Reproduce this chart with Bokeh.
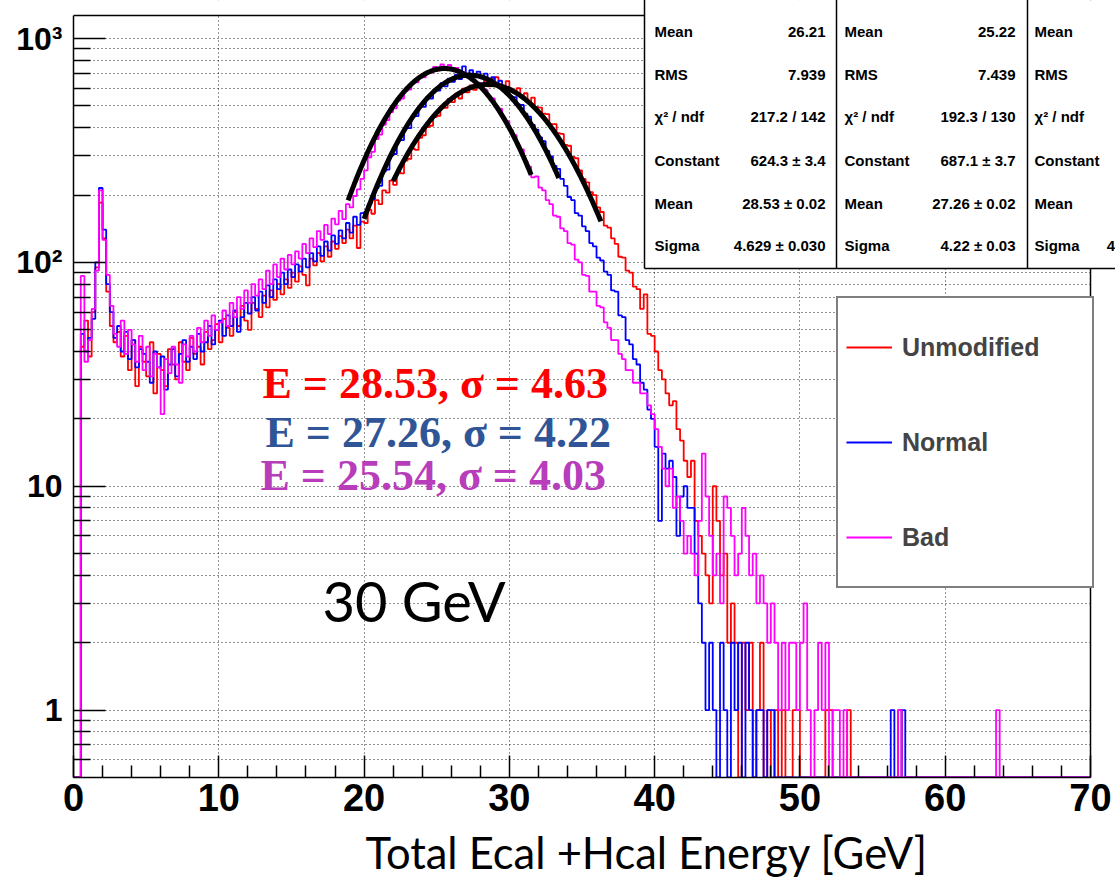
import numpy as np
from bokeh.plotting import figure
from bokeh.models import (Range1d, FixedTicker, Label, LabelSet, BoxAnnotation, Span, Title,
                          ColumnDataSource, Legend, LegendItem)
from bokeh.core.properties import value
from bokeh.embed import file_html
from bokeh.resources import INLINE

# ---------------- data ----------------
bin_width = 0.25
x_lo, x_hi = 0.0, 70.0
y_lo, y_hi = 0.5, 1268.0

unmodified = [
    0, 0, 42, 55, 38, 60, 95, 185, 128, 74, 52, 44, 49, 38, 47, 33, 45, 28, 42, 36,
    31, 44, 26, 39, 33, 28, 41, 35, 30, 44, 36, 33, 46, 39, 42, 35, 49, 41, 45, 53,
    44, 56, 51, 47, 60, 52, 64, 55, 50, 66, 62, 57, 71, 63, 75, 68, 80, 72, 84, 77,
    90, 82, 96, 88, 79, 104, 97, 110, 101, 118, 106, 124, 115, 131, 122, 140, 128, 146, 116, 152,
    150, 172, 165, 190, 182, 210, 205, 232, 222, 255, 250, 285, 290, 322, 318, 360, 370, 402, 408, 446,
    452, 500, 490, 538, 520, 568, 540, 598, 575, 618, 590, 632, 605, 648, 612, 660, 672, 625, 600, 645,
    598, 580, 600, 552, 570, 522, 545, 495, 492, 462, 460, 415, 415, 378, 375, 335, 332, 296, 292, 258,
    236, 228, 206, 200, 176, 168, 146, 143, 128, 121, 106, 105, 92, 90, 78, 76, 62, 72, 48, 47,
    40, 33, 30, 26, 23, 24, 18, 16, 13, 11, 13, 7, 6, 5, 4, 3, 10, 7, 4, 5,
    2, 3, 2, 0, 2, 1, 2, 0, 1, 2, 0, 1, 0, 1, 0, 1, 0, 0, 1, 1,
    0, 0, 0, 0, 0, 0, 0, 1, 1, 0, 0, 0, 0, 1, 0, 0, 0, 0, 0, 0,
    0, 0, 0, 0, 0, 0, 0, 1, 0, 0, 0, 0, 0, 0, 0, 0, 0, 0, 0, 0,
    0, 0, 0, 0, 0, 0, 0, 0, 0, 0, 0, 0, 0, 0, 0, 0, 0, 0, 0, 0,
    0, 0, 0, 0, 0, 0, 0, 0, 0, 0, 0, 0, 0, 0, 0, 0, 0, 0, 0, 0,
]

normal = [
    0, 0, 48, 40, 46, 56, 100, 215, 140, 80, 60, 46, 52, 40, 49, 37, 45, 34, 41, 39,
    36, 29, 40, 34, 38, 27, 35, 41, 31, 39, 45, 36, 42, 37, 48, 40, 44, 52, 43, 50,
    55, 47, 58, 52, 61, 49, 57, 66, 59, 70, 61, 74, 66, 79, 70, 84, 76, 90, 80, 93,
    86, 98, 91, 104, 95, 110, 101, 118, 107, 124, 113, 132, 121, 139, 128, 150, 136, 160, 147, 166,
    168, 182, 192, 215, 220, 255, 260, 300, 305, 350, 352, 400, 398, 448, 450, 500, 495, 548, 540, 588,
    585, 632, 612, 662, 640, 690, 660, 752, 684, 722, 672, 712, 664, 698, 645, 672, 618, 648, 588, 608,
    552, 548, 508, 505, 462, 448, 412, 392, 362, 348, 315, 298, 270, 262, 236, 220, 196, 190, 166, 162,
    145, 138, 122, 118, 105, 102, 91, 88, 75, 74, 58, 57, 45, 43, 37, 35, 29, 27, 22, 20,
    15, 7, 14, 12, 13, 11, 6, 9, 10, 8, 8, 5, 3, 2, 1, 2, 1, 0, 2, 1,
    0, 2, 1, 2, 0, 2, 1, 0, 1, 1, 0, 1, 1, 0, 0, 0, 0, 0, 0, 0,
    0, 0, 0, 0, 0, 0, 0, 0, 0, 0, 0, 0, 0, 0, 0, 0, 0, 0, 0, 0,
    0, 0, 0, 0, 0, 1, 0, 0, 1, 0, 0, 0, 0, 0, 0, 0, 0, 0, 0, 0,
    0, 0, 0, 0, 0, 0, 0, 0, 0, 0, 0, 0, 0, 0, 0, 0, 0, 0, 0, 0,
    0, 0, 0, 0, 0, 0, 0, 0, 0, 0, 0, 0, 0, 0, 0, 0, 0, 0, 0, 0,
]

bad = [
    0, 0, 87, 36, 45, 62, 92, 210, 126, 88, 64, 48, 42, 55, 39, 50, 43, 36, 47, 33,
    42, 31, 39, 34, 21, 37, 32, 42, 35, 29, 43, 38, 47, 40, 51, 44, 55, 47, 58, 50,
    54, 61, 52, 66, 57, 70, 62, 75, 66, 80, 71, 84, 76, 92, 80, 98, 86, 104, 93, 108,
    98, 112, 104, 121, 110, 128, 117, 138, 126, 147, 134, 157, 148, 170, 156, 182, 176, 198, 212, 236,
    258, 295, 312, 356, 372, 412, 432, 470, 488, 528, 540, 582, 592, 635, 638, 678, 672, 712, 705, 748,
    722, 766, 740, 762, 722, 740, 698, 706, 672, 674, 640, 636, 598, 590, 552, 540, 498, 486, 442, 428,
    390, 370, 333, 320, 284, 268, 240, 242, 216, 210, 190, 182, 162, 160, 142, 138, 122, 120, 103, 100,
    88, 87, 74, 74, 64, 63, 54, 51, 45, 45, 39, 37, 33, 33, 29, 29, 26, 26, 23, 21,
    18, 15, 12, 10, 12, 8, 9, 7, 5, 6, 5, 4, 7, 14, 9, 6, 4, 5, 3, 9,
    8, 6, 4, 5, 8, 6, 4, 5, 3, 4, 3, 2, 3, 2, 1, 2, 1, 2, 2, 1,
    2, 3, 1, 0, 1, 2, 1, 2, 0, 1, 1, 0, 1, 0, 0, 0, 0, 0, 0, 0,
    0, 0, 0, 0, 0, 0, 0, 1, 0, 0, 0, 0, 0, 0, 0, 0, 0, 0, 0, 0,
    0, 0, 0, 0, 0, 0, 0, 0, 0, 0, 0, 0, 0, 0, 1, 0, 0, 0, 0, 0,
    0, 0, 0, 0, 0, 0, 0, 0, 0, 0, 0, 0, 0, 0, 0, 0, 0, 0, 0, 0,
]

series_names = ["Unmodified", "Normal", "Bad"]
series_colors = ["#ff0000", "#0000ff", "#ff00ff"]

# Gaussian fit results (constant, mean, sigma, fit range)
fit_const = [624.3, 687.1, 735.0]
fit_mean = [28.53, 27.26, 25.54]
fit_sigma = [4.629, 4.22, 4.03]
fit_lo = [22.0, 20.0, 18.9]
fit_hi = [36.3, 33.4, 31.5]

stat_labels = ["Mean", "RMS", "\u03c7\u00b2 / ndf", "Constant", "Mean", "Sigma"]
stats_unmodified = ["26.21", "7.939", "217.2 / 142", "624.3 \u00b1 3.4", "28.53 \u00b1 0.02", "4.629 \u00b1 0.030"]
stats_normal = ["25.22", "7.439", "192.3 / 130", "687.1 \u00b1 3.7", "27.26 \u00b1 0.02", "4.22 \u00b1 0.03"]
stats_bad = ["", "", "", "", "25.54 \u00b1 0.02", "4.033 \u00b1 0.030"]

fit_texts = ["E = 28.53, \u03c3 = 4.63", "E = 27.26, \u03c3 = 4.22", "E = 25.54, \u03c3 = 4.03"]
fit_text_colors = ["#ff0000", "#2f5597", "#b83dba"]

x_ticks = [0, 10, 20, 30, 40, 50, 60, 70]
x_minor = [v for v in range(2, 70, 2) if v % 10 != 0]
y_ticks = [1, 10, 100, 1000]
y_minor = [0.6, 0.7, 0.8, 0.9] + [m * d for d in (1, 10, 100) for m in range(2, 10)]
y_tick_text = {1: "1", 10: "10", 100: "10\u00b2", 1000: "10\u00b3"}

# ---------------- layout (pixel geometry of the ROOT frame) ----------------
W, H = 1115, 889
FL, FR, FT, FB = 73, 1090, 15, 777     # ROOT frame edges in pixels
LA, LB = np.log10(y_lo), np.log10(y_hi)
x_per_px = (x_hi - x_lo) / (FR - FL)
dec_per_px = (LB - LA) / (FB - FT)
x_view_hi = x_hi + (W - FR) * x_per_px          # bokeh frame extends to canvas right edge
y_view_hi = 10 ** (LB + FT * dec_per_px)          # and to canvas top edge


def px_x(px):
    return x_lo + (px - FL) * x_per_px


def px_y(py):
    return 10 ** (LB - (py - FT) * dec_per_px)


p = figure(width=W, height=H, y_axis_type="log",
           x_range=Range1d(x_lo, x_view_hi), y_range=Range1d(y_lo, y_view_hi),
           output_backend="svg", toolbar_location=None,
           min_border_left=FL, min_border_right=0,
           min_border_top=0, min_border_bottom=H - FB)
p.background_fill_color = "white"
p.border_fill_color = "white"
p.outline_line_color = None

# axes
p.xaxis.ticker = FixedTicker(ticks=x_ticks, minor_ticks=x_minor)
p.yaxis.ticker = FixedTicker(ticks=y_ticks, minor_ticks=y_minor)
p.xaxis.bounds = (x_lo, x_hi)
p.yaxis.bounds = (y_lo, y_hi)
p.yaxis.major_label_overrides = y_tick_text
for ax in (p.xaxis, p.yaxis):
    ax.axis_line_color = "black"
    ax.axis_line_width = 1.5
    ax.major_tick_line_color = "black"
    ax.minor_tick_line_color = "black"
    ax.major_tick_line_width = 1.5
    ax.minor_tick_line_width = 1.5
    ax.major_tick_out = 0
    ax.minor_tick_out = 0
    ax.major_label_text_font = "Liberation Sans"
    ax.major_label_text_font_style = "bold"
    ax.major_label_text_color = "black"
p.xaxis.major_tick_in = 22
p.xaxis.minor_tick_in = 12
p.yaxis.major_tick_in = 32
p.yaxis.minor_tick_in = 17
p.xaxis.major_label_text_font_size = "38px"
p.yaxis.major_label_text_font_size = "32px"
p.xaxis.major_label_standoff = 6
p.yaxis.major_label_standoff = 11

# grids
for g in (p.xgrid, p.ygrid):
    g.grid_line_color = "black"
    g.grid_line_dash = "1 3"
    g.grid_line_width = 1
    g.grid_line_alpha = 0.85
p.ygrid.minor_grid_line_color = "black"
p.ygrid.minor_grid_line_dash = "1 3"
p.ygrid.minor_grid_line_alpha = 0.85

# blank the area outside the ROOT frame (right strip and top strip)
p.add_layout(BoxAnnotation(left=x_hi, right=x_view_hi * 1.01, bottom=y_lo, top=y_view_hi * 1.1,
                           fill_color="white", fill_alpha=1.0, line_color=None, level="underlay"))
p.add_layout(BoxAnnotation(left=x_lo, right=x_view_hi * 1.01, bottom=y_hi, top=y_view_hi * 1.1,
                           fill_color="white", fill_alpha=1.0, line_color=None, level="underlay"))

# histograms
edges = [x_lo + i * bin_width for i in range(len(unmodified) + 1)]
renderers = []
for counts, color in zip([unmodified, normal, bad], series_colors):
    shown = [max(c, y_lo) for c in counts]
    shown = shown + [shown[-1]]
    r = p.step(edges, shown, mode="after", line_color=color, line_width=1.8)
    renderers.append(r)

# fit curves
for C, mu, sg, lo, hi in zip(fit_const, fit_mean, fit_sigma, fit_lo, fit_hi):
    xs = np.linspace(lo, hi, 200)
    ys = C * np.exp(-0.5 * ((xs - mu) / sg) ** 2)
    p.line(xs, ys, line_color="black", line_width=5)

# ROOT frame: top and right edges
p.add_layout(Span(location=x_hi, dimension="height", line_color="black", line_width=1.5))
p.add_layout(Span(location=y_hi, dimension="width", line_color="black", line_width=1.5))

# stat boxes (white fills, borders drawn as segments on top)
box_edges = [(644, 836), (836, 1027), (1027, 1220)]
box_top, box_bottom = -10, 268
for l, r in box_edges:
    p.add_layout(BoxAnnotation(left=px_x(l), right=px_x(r), top=px_y(box_top), bottom=px_y(box_bottom),
                               fill_color="white", fill_alpha=1.0, line_color=None))
seg_x0 = [px_x(l) for l, _ in box_edges] + [px_x(box_edges[0][0])]
seg_x1 = [px_x(l) for l, _ in box_edges] + [px_x(box_edges[-1][1])]
seg_y0 = [px_y(box_bottom)] * 4
seg_y1 = [px_y(box_top)] * 3 + [px_y(box_bottom)]
p.segment(seg_x0, seg_y0, seg_x1, seg_y1, line_color="black", line_width=1.5, level="overlay")

row_y = [31, 74, 116, 160, 203, 245]
lab_x = [654, 844, 1034]
val_x = [825, 1015, 1198]
sx, sy, st, sa = [], [], [], []
for bi, vals in enumerate([stats_unmodified, stats_normal, stats_bad]):
    for ri in range(6):
        sx.append(px_x(lab_x[bi])); sy.append(px_y(row_y[ri])); st.append(stat_labels[ri]); sa.append("left")
        if vals[ri]:
            sx.append(px_x(val_x[bi])); sy.append(px_y(row_y[ri])); st.append(vals[ri]); sa.append("right")
src = ColumnDataSource(dict(x=sx, y=sy, t=st, a=sa))
p.add_layout(LabelSet(x="x", y="y", text="t", source=src, text_align="a",
                      text_baseline="middle", text_font=value("Liberation Sans"),
                      text_font_style="bold", text_font_size="15px", text_color="black"))

# legend
legend = Legend(items=[LegendItem(label=n, renderers=[r]) for n, r in zip(series_names, renderers)],
                location=(836 - FL, FB - 588), orientation="vertical",
                border_line_color="black", border_line_width=2,
                background_fill_color="white", background_fill_alpha=1.0,
                padding=8, spacing=13, margin=0,
                glyph_width=46, glyph_height=82, label_height=82, label_width=182,
                label_standoff=10, label_text_font="Liberation Sans",
                label_text_font_style="bold", label_text_font_size="25px")
p.add_layout(legend)

# fit annotations
fit_text_pos = [(262, 383), (265, 432), (260, 475)]
for txt, col, (tx, ty) in zip(fit_texts, fit_text_colors, fit_text_pos):
    p.add_layout(Label(x=px_x(tx), y=px_y(ty), text=txt, text_color=col,
                       text_font="Liberation Serif", text_font_style="bold",
                       text_font_size="44px", text_baseline="middle", text_align="left"))

p.add_layout(Label(x=px_x(322), y=px_y(600), text="30 GeV", text_color="black",
                   text_font="Lato", text_font_size="56px",
                   text_baseline="middle", text_align="left"))

# x-axis title (placed in the bottom panel, shifted right like the reference)
p.add_layout(Title(text="Total Ecal +Hcal Energy [GeV]", align="left", offset=365 - FL,
                   text_font="Lato", text_font_size="43.5px", text_font_style="normal",
                   text_color="black", standoff=20), "below")

open("out.html", "w").write(file_html(p, INLINE))
